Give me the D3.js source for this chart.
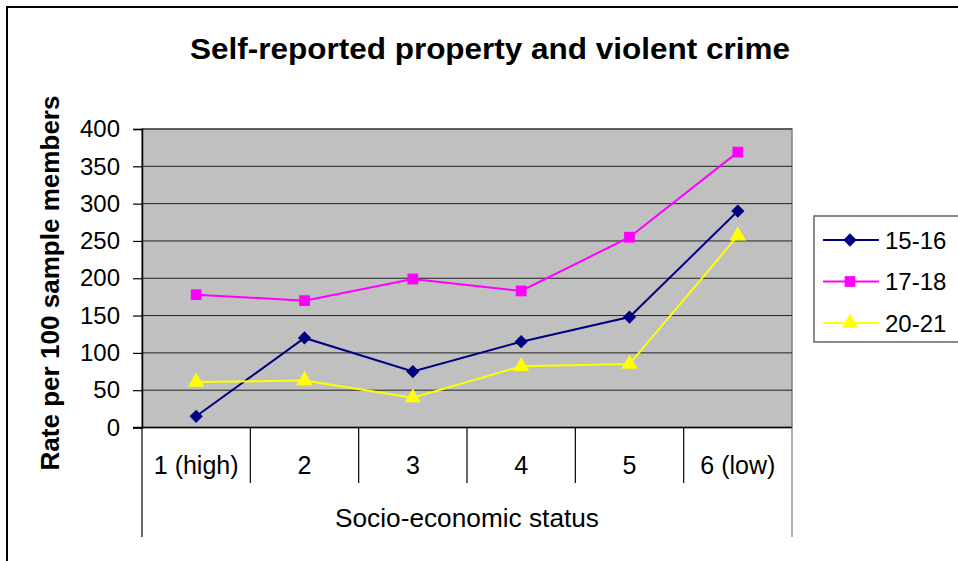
<!DOCTYPE html>
<html><head><meta charset="utf-8">
<script src="https://cdn.jsdelivr.net/npm/d3@7/dist/d3.min.js"></script>
<style>body{margin:0;background:#fff}svg{display:block;font-family:"Liberation Sans",Arial,sans-serif}</style>
</head><body><svg id="c" width="958" height="561"></svg>
<script>
const categories = ["1 (high)", "2", "3", "4", "5", "6 (low)"];
const seriesNames = ["15-16", "17-18", "20-21"];
const s1516 = [15, 120, 75, 115, 148, 290];
const s1718 = [178, 170, 199, 183, 255, 369];
const s2021 = [61, 63, 40, 82, 85, 257];
const yTicks = [0, 50, 100, 150, 200, 250, 300, 350, 400];
const colors = ["#000080", "#FF00FF", "#FFFF00"];
const shapeNames = ["diamond", "square", "triangle"];

const series = [s1516, s1718, s2021].map((v, i) => ({name: seriesNames[i], values: v, color: colors[i], shape: shapeNames[i]}));

function marker(sel, shape, color) {
  if (shape === "diamond") {
    sel.append("path").attr("d", d3.symbol().type(d3.symbolSquare).size(88)()).attr("transform", "rotate(45)").attr("fill", color);
  } else if (shape === "square") {
    sel.append("path").attr("d", d3.symbol().type(d3.symbolSquare).size(115)()).attr("fill", color);
  } else {
    sel.append("path").attr("d", d3.symbol().type(d3.symbolTriangle).size(115)()).attr("fill", color);
  }
}

const svg = d3.select("#c");
const L = 142, R = 792, T = 129, B = 427.5;
const x = d3.scaleBand().domain(categories).range([L, R]);
const y = d3.scaleLinear().domain([0, 400]).range([B, T]);

// outer border
svg.append("rect").attr("x", 7).attr("y", 7).attr("width", 1000).attr("height", 600)
  .attr("fill", "#fff").attr("stroke", "#000").attr("stroke-width", 2);

// title
svg.append("text").attr("x", 490).attr("y", 59).attr("text-anchor", "middle")
  .attr("font-size", 30).attr("font-weight", "bold").attr("textLength", 600).attr("lengthAdjust", "spacingAndGlyphs")
  .text("Self-reported property and violent crime");

// plot bg
svg.append("rect").attr("x", L).attr("y", T).attr("width", R - L).attr("height", B - T)
  .attr("fill", "#C0C0C0").attr("stroke", "#808080").attr("stroke-width", 1.5);

// gridlines
svg.append("g").selectAll("line").data(yTicks.filter(d => d > 0)).join("line")
  .attr("x1", L).attr("x2", R).attr("y1", d => y(d)).attr("y2", d => y(d))
  .attr("stroke", "#222").attr("stroke-width", 1);

// y axis
const ya = svg.append("g").attr("transform", `translate(${L},0)`)
  .call(d3.axisLeft(y).tickValues(yTicks).tickSize(9).tickPadding(13));
ya.select(".domain").attr("stroke", "#000").attr("stroke-width", 1.5);
ya.selectAll(".tick line").attr("stroke", "#000").attr("stroke-width", 1.2);
ya.selectAll("text").attr("font-size", 24).attr("font-family", "Liberation Sans, Arial, sans-serif").attr("fill", "#000");

// x axis bottom line
svg.append("line").attr("x1", L - 9).attr("x2", R).attr("y1", B).attr("y2", B)
  .attr("stroke", "#000").attr("stroke-width", 1.5);
// category separators
const bounds = categories.map(c => x(c)).concat([R]);
svg.append("g").selectAll("line").data(bounds).join("line")
  .attr("x1", d => d).attr("x2", d => d).attr("y1", B)
  .attr("y2", (d, i) => (i === 0 || i === bounds.length - 1) ? 537 : 483)
  .attr("stroke", (d, i) => i === bounds.length - 1 ? "#808080" : "#000").attr("stroke-width", 1.2);
// category labels
svg.append("g").selectAll("text").data(categories).join("text")
  .attr("x", d => x(d) + x.bandwidth() / 2).attr("y", 474).attr("text-anchor", "middle")
  .attr("font-size", 25).text(d => d);
svg.append("text").attr("x", (L + R) / 2).attr("y", 527).attr("text-anchor", "middle")
  .attr("font-size", 25).attr("textLength", 264).attr("lengthAdjust", "spacingAndGlyphs").text("Socio-economic status");

// y label
svg.append("text").attr("transform", "translate(59,283) rotate(-90)").attr("text-anchor", "middle")
  .attr("font-size", 25).attr("font-weight", "bold").attr("textLength", 375).attr("lengthAdjust", "spacingAndGlyphs")
  .text("Rate per 100 sample members");

// lines
const line = d3.line().x((d, i) => x(categories[i]) + x.bandwidth() / 2).y(d => y(d));
series.forEach(s => {
  svg.append("path").attr("d", line(s.values)).attr("fill", "none")
    .attr("stroke", s.color).attr("stroke-width", 2);
  svg.append("g").selectAll("g").data(s.values).join("g")
    .attr("transform", (d, i) => `translate(${x(categories[i]) + x.bandwidth() / 2},${y(d)})`)
    .each(function() { marker(d3.select(this), s.shape, s.color); });
});

// legend
const lg = svg.append("g");
lg.append("rect").attr("x", 814).attr("y", 216).attr("width", 200).attr("height", 126)
  .attr("fill", "#fff").attr("stroke", "#666").attr("stroke-width", 1.5);
series.forEach((s, i) => {
  const yy = 240 + i * 41.5;
  lg.append("line").attr("x1", 823).attr("x2", 879).attr("y1", yy).attr("y2", yy)
    .attr("stroke", s.color).attr("stroke-width", 2);
  marker(lg.append("g").attr("transform", `translate(850,${yy})`), s.shape, s.color);
  lg.append("text").attr("x", 885).attr("y", yy + 8.5).attr("font-size", 24).text(s.name);
});
</script></body></html>
